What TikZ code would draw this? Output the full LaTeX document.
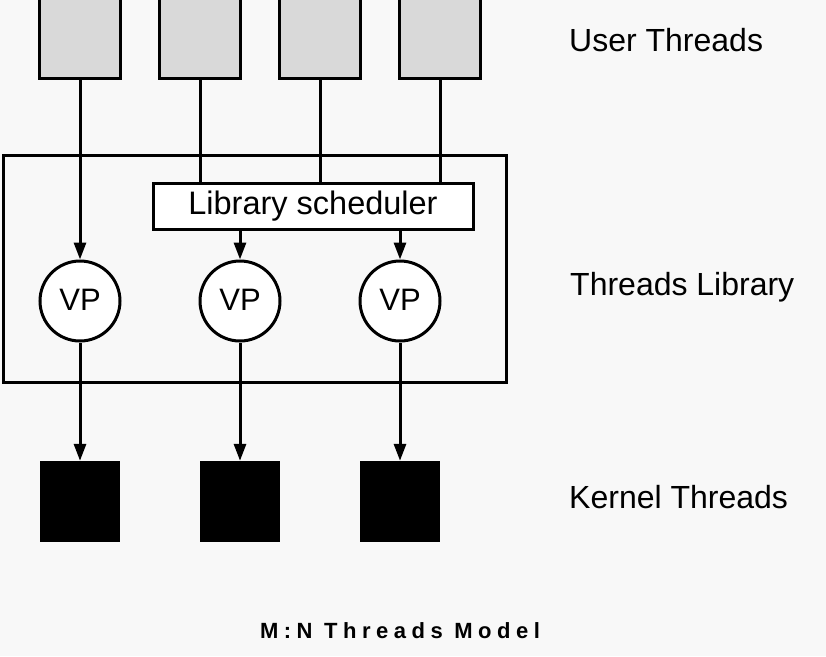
\documentclass[tikz,border=0pt]{standalone}
\usepackage{fontspec}
\setmainfont{Liberation Sans}
\newfontfamily\titlefont[LetterSpace=25]{Liberation Sans Bold}
\usetikzlibrary{arrows.meta,positioning}
\definecolor{bgc}{RGB}{248,248,248}
\definecolor{ugray}{RGB}{217,217,217}
\tikzset{
  line/.style={line width=3pt, draw=black},
  arr/.style={line, -{Triangle[length=17pt,width=12pt]}},
  ubox/.style={line, fill=ugray, minimum width=81pt, minimum height=98pt, inner sep=0pt},
  kbox/.style={draw=none, fill=black, minimum width=80pt, minimum height=81pt, inner sep=0pt},
  vp/.style={line, fill=white, circle, minimum size=80pt, inner sep=0pt, font=\fontsize{31}{36}\selectfont},
  lbl/.style={anchor=base west, inner sep=0pt, font=\fontsize{32}{38}\selectfont},
}
\begin{document}
\begin{tikzpicture}[x=1pt,y=-1pt]
\clip (0,0) rectangle (826,656);
\fill[bgc] (0,0) rectangle (826,656);
% threads library box
\node[line, minimum width=503pt, minimum height=227pt, inner sep=0pt] (lib) at (254.5,268.5) {};
% user threads
\node[ubox] (u1) at (80,29) {};
\node[ubox] (u2) at (200,29) {};
\node[ubox] (u3) at (320,29) {};
\node[ubox] (u4) at (440,29) {};
% scheduler
\node[line, fill=white, minimum width=320pt, minimum height=46pt, inner sep=0pt, font=\fontsize{32.5}{38}\selectfont] (sched) at (313,206) {\raisebox{0pt}{Library scheduler}};
% VPs
\node[vp] (vp1) at (80,301) {\raisebox{3pt}{VP}};
\node[vp] (vp2) at (240,301) {\raisebox{3pt}{VP}};
\node[vp] (vp3) at (400,301) {\raisebox{3pt}{VP}};
% kernel threads
\node[kbox] (k1) at (80,501.5) {};
\node[kbox] (k2) at (240,501.5) {};
\node[kbox] (k3) at (400,501.5) {};
% connectors
\draw[arr] (u1.south) -- (vp1.north);
\draw[line] (u2.south) -- (u2.south |- sched.north);
\draw[line] (u3.south) -- (u3.south |- sched.north);
\draw[line] (u4.south) -- (u4.south |- sched.north);
\draw[arr] (sched.south -| vp2.north) -- (vp2.north);
\draw[arr] (sched.south -| vp3.north) -- (vp3.north);
\draw[arr] (vp1.south) -- (k1.north);
\draw[arr] (vp2.south) -- (k2.north);
\draw[arr] (vp3.south) -- (k3.north);
% labels
\node[lbl] (lu) at (569,51) {User Threads};
\node[lbl] (ll) at (570,295) {Threads Library};
\node[lbl] (lk) at (569,508) {Kernel Threads};
\node[anchor=base, inner sep=0pt, font=\fontsize{22}{26}\titlefont] (title) at (400,638) {M:N Threads Model};
\end{tikzpicture}
\end{document}
